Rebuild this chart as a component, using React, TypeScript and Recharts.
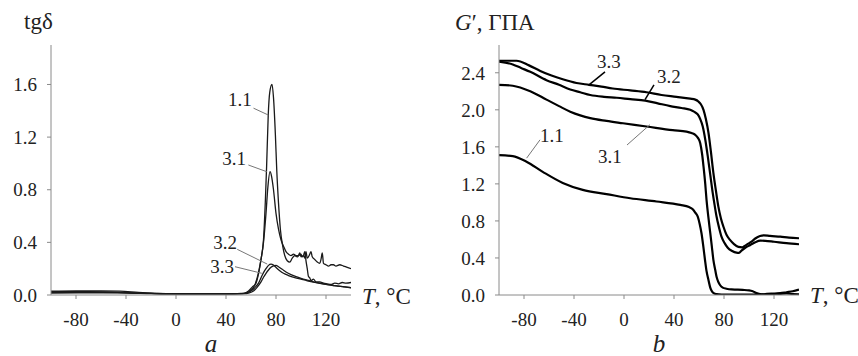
import React from 'react';
import { LineChart, Line, XAxis, YAxis, ReferenceLine, ReferenceDot } from 'recharts';

// ось температуры, общая для обеих панелей
const X_TICKS = [-80, -40, 0, 40, 80, 120];
const TAN_TICKS = [0, 0.4, 0.8, 1.2, 1.6];
const G_TICKS = [0, 0.4, 0.8, 1.2, 1.6, 2.0, 2.4];

// панель a: tgδ
const tanT11 = [-100, -80, -60, -45, -30, -15, 0, 20, 40, 50, 55, 58, 61, 64, 66, 68, 70, 71.5, 72.5, 73.8, 75, 76.8, 78, 79.5, 80.6, 82, 83.5, 85.4, 87, 89, 91, 93, 95, 97, 98, 99, 100, 102, 103, 104, 105, 107, 108, 109, 111, 113, 115, 116, 117, 118, 120, 122, 124, 126, 128, 131, 134, 137, 140];
const tan11 = [0.03, 0.032, 0.032, 0.03, 0.02, 0.012, 0.01, 0.008, 0.008, 0.01, 0.015, 0.03, 0.06, 0.09, 0.16, 0.27, 0.42, 0.72, 0.98, 1.37, 1.54, 1.6, 1.5, 1.22, 0.95, 0.7, 0.5, 0.37, 0.3, 0.26, 0.25, 0.28, 0.3, 0.29, 0.3, 0.32, 0.29, 0.3, 0.28, 0.33, 0.28, 0.31, 0.33, 0.29, 0.27, 0.25, 0.24, 0.27, 0.32, 0.24, 0.23, 0.22, 0.23, 0.23, 0.22, 0.23, 0.22, 0.21, 0.2];

const tanT31 = [-100, -70, -50, -30, -10, 10, 40, 52, 56, 60, 63, 66, 68, 70, 72, 73.5, 75.2, 76.5, 78, 80, 82, 84, 86.5, 88, 90, 92, 94, 96, 98, 100, 101, 102, 103, 104, 105, 106, 107, 108, 110, 112, 115, 118, 121, 124, 127, 130, 133, 136, 140];
const tan31 = [0.025, 0.025, 0.022, 0.015, 0.01, 0.008, 0.008, 0.012, 0.015, 0.035, 0.075, 0.17, 0.27, 0.4, 0.62, 0.82, 0.937, 0.9, 0.8, 0.62, 0.5, 0.42, 0.36, 0.33, 0.31, 0.3, 0.31, 0.3, 0.3, 0.31, 0.29, 0.3, 0.33, 0.26, 0.2, 0.14, 0.13, 0.11, 0.12, 0.1, 0.1, 0.09, 0.085, 0.08, 0.09, 0.085, 0.095, 0.09, 0.095];

const tanT32 = [-100, -60, -40, -20, 0, 40, 52, 56, 60, 63, 66, 68, 70, 72, 74, 76, 78, 80, 83, 86, 90, 95, 100, 105, 110, 115, 120, 125, 130, 135, 140];
const tan32 = [0.02, 0.02, 0.018, 0.012, 0.008, 0.008, 0.01, 0.015, 0.03, 0.055, 0.09, 0.13, 0.17, 0.2, 0.225, 0.235, 0.228, 0.21, 0.185, 0.165, 0.148, 0.132, 0.12, 0.108, 0.097, 0.088, 0.08, 0.073, 0.067, 0.061, 0.056];

const tanT33 = [-100, -60, -40, -20, 0, 40, 54, 58, 62, 65, 68, 70, 72, 74, 76, 78, 80, 82, 85, 88, 92, 96, 100, 105, 110, 115, 120, 125, 130, 135, 140];
const tan33 = [0.015, 0.016, 0.015, 0.01, 0.007, 0.007, 0.01, 0.015, 0.03, 0.06, 0.1, 0.135, 0.165, 0.19, 0.21, 0.222, 0.225, 0.215, 0.195, 0.175, 0.155, 0.14, 0.127, 0.113, 0.1, 0.09, 0.081, 0.074, 0.067, 0.061, 0.055];

// панель b: G', ГПа
const gT33 = [-100, -86, -76, -67, -58, -49, -38, -28, -18, -9, 5, 18, 30, 42, 53, 57, 59.5, 61.5, 63.6, 65.5, 67.6, 69.5, 71.5, 73.5, 75.5, 77.5, 79.5, 82, 84.8, 88, 91.5, 94.5, 97, 99.5, 102, 105, 108.8, 112, 116.8, 125, 132, 140];
const g33 = [2.53, 2.53, 2.48, 2.42, 2.37, 2.33, 2.29, 2.27, 2.25, 2.23, 2.21, 2.19, 2.16, 2.14, 2.12, 2.11, 2.09, 2.06, 2.0, 1.9, 1.75, 1.55, 1.32, 1.13, 0.955, 0.83, 0.74, 0.65, 0.595, 0.55, 0.52, 0.515, 0.533, 0.555, 0.576, 0.61, 0.638, 0.645, 0.638, 0.63, 0.62, 0.613];

const gT32 = [-100, -89, -82, -75, -62, -52, -43, -35, -27, -16, -5.8, 5, 17, 27, 37, 46, 53, 56, 59, 61, 63, 65, 67, 69, 71, 72.5, 74, 76, 78, 80.5, 83, 86.5, 90, 92, 94, 97, 101, 105, 109, 113, 120, 130, 140];
const g32 = [2.52, 2.49, 2.45, 2.41, 2.32, 2.27, 2.22, 2.19, 2.16, 2.14, 2.13, 2.115, 2.1, 2.07, 2.04, 2.02, 2.0, 1.98, 1.95, 1.9, 1.82, 1.68, 1.5, 1.3, 1.1, 0.97, 0.85, 0.73, 0.63, 0.56, 0.51, 0.475, 0.457, 0.455, 0.48, 0.51, 0.54, 0.57, 0.587, 0.585, 0.575, 0.56, 0.548];

const gT31 = [-100, -89, -75, -62, -52, -43, -35, -27, -14, -0.8, 18, 39, 50, 54, 57, 59, 61, 62.5, 63.6, 65, 66, 67.5, 69, 70.3, 71.5, 73, 74, 75.5, 76.8, 79, 82, 86, 90, 95, 100, 103, 106, 110, 115, 120, 125, 130, 135, 140];
const g31 = [2.27, 2.26, 2.2, 2.11, 2.04, 1.98, 1.94, 1.91, 1.88, 1.855, 1.82, 1.78, 1.765, 1.75, 1.73, 1.7, 1.64, 1.52, 1.39, 1.2, 1.03, 0.84, 0.67, 0.52, 0.38, 0.27, 0.2, 0.14, 0.108, 0.08, 0.068, 0.06, 0.058, 0.055, 0.05, 0.04, 0.02, 0.008, 0.005, 0.012, 0.02, 0.03, 0.04, 0.058];

const gT11 = [-100, -89, -78, -65, -49, -33, -14, 5, 26, 45, 52, 55, 57, 59, 60.5, 62, 63.5, 64.8, 66, 67.6, 69, 70.5, 72, 74, 78, 85, 95, 105, 112, 118, 124, 130, 135, 140];
const g11 = [1.51, 1.5, 1.44, 1.33, 1.21, 1.135, 1.09, 1.045, 1.01, 0.973, 0.95, 0.926, 0.89, 0.846, 0.77, 0.667, 0.52, 0.378, 0.26, 0.16, 0.08, 0.036, 0.018, 0.01, 0.005, 0.004, 0.004, 0.004, 0.008, 0.015, 0.012, 0.018, 0.01, 0.008];

const SERIF = '"Liberation Serif", "Times New Roman", serif';
const INK = '#222';

const toPts = (xs: number[], ys: number[]) => xs.map((T, i) => ({ T, v: ys[i] }));

// свой рендер подписей делений, чтобы шрифт задавался инлайн-стилем
const XTick = (p: any) => (
  <text x={p.x} y={p.y} dy="0.71em" textAnchor="middle" fill={INK} style={{ fontFamily: SERIF, fontSize: 19 }}>
    {p.payload.value}
  </text>
);

const YTick = (p: any) => (
  <text x={p.x} y={p.y} dy="0.355em" textAnchor="end" fill={INK} style={{ fontFamily: SERIF, fontSize: 19 }}>
    {Number(p.payload.value).toFixed(1)}
  </text>
);

// подпись кривой (номер образца)
const tag = (text: string, anchor: 'start' | 'end') => (p: any) => (
  <text x={p.cx} y={p.cy} textAnchor={anchor} fill={INK} style={{ fontFamily: SERIF, fontSize: 19 }}>
    {text}
  </text>
);

const axes = (ticks: number[], max: number) => [
  <XAxis
    key="x"
    type="number"
    dataKey="T"
    domain={[-100, 140]}
    ticks={X_TICKS}
    interval={0}
    allowDataOverflow
    stroke="#8a8a8a"
    tick={XTick}
    tickSize={4}
    tickMargin={14}
    height={30}
  />,
  <YAxis
    key="y"
    type="number"
    domain={[0, max]}
    ticks={ticks}
    interval={0}
    allowDataOverflow
    stroke="#8a8a8a"
    tick={YTick}
    tickSize={4}
    tickMargin={10}
    width={45}
  />,
];

const txt = (size: number, italic = false) => ({
  fontFamily: SERIF,
  fontSize: size,
  fontStyle: italic ? 'italic' : 'normal',
});

const App = () => {
  const tanSeries = [
    { id: '1.1', pts: toPts(tanT11, tan11) },
    { id: '3.1', pts: toPts(tanT31, tan31) },
    { id: '3.2', pts: toPts(tanT32, tan32) },
    { id: '3.3', pts: toPts(tanT33, tan33) },
  ];
  const gSeries = [
    { id: '1.1', pts: toPts(gT11, g11) },
    { id: '3.1', pts: toPts(gT31, g31) },
    { id: '3.2', pts: toPts(gT32, g32) },
    { id: '3.3', pts: toPts(gT33, g33) },
  ];

  return (
    <div style={{ position: 'absolute', left: 0, top: 0, width: 858, height: 356, background: '#fff' }}>
      <div style={{ position: 'absolute', left: 0, top: 0 }}>
        <LineChart width={430} height={356} margin={{ top: 45, right: 79, bottom: 31, left: 6 }}>
          {axes(TAN_TICKS, 1.9)}
          {tanSeries.map((s) => (
            <Line
              key={s.id}
              data={s.pts}
              dataKey="v"
              type="monotone"
              stroke="#1a1a1a"
              strokeWidth={1.3}
              dot={false}
              activeDot={false}
              isAnimationActive={false}
            />
          ))}
          <ReferenceLine segment={[{ x: 62, y: 1.42 }, { x: 73.8, y: 1.368 }]} stroke="#777" strokeWidth={1} />
          <ReferenceLine segment={[{ x: 57.9, y: 0.988 }, { x: 72.6, y: 0.937 }]} stroke="#777" strokeWidth={1} />
          <ReferenceLine segment={[{ x: 49, y: 0.347 }, { x: 73, y: 0.235 }]} stroke="#777" strokeWidth={1} />
          <ReferenceLine segment={[{ x: 47.2, y: 0.215 }, { x: 68.6, y: 0.165 }]} stroke="#777" strokeWidth={1} />
          <ReferenceDot x={60.5} y={1.436} r={0} shape={tag('1.1', 'end')} />
          <ReferenceDot x={56} y={0.988} r={0} shape={tag('3.1', 'end')} />
          <ReferenceDot x={48.8} y={0.35} r={0} shape={tag('3.2', 'end')} />
          <ReferenceDot x={46.4} y={0.167} r={0} shape={tag('3.3', 'end')} />
        </LineChart>
      </div>
      <div style={{ position: 'absolute', left: 430, top: 0 }}>
        <LineChart width={428} height={356} margin={{ top: 45, right: 59, bottom: 31, left: 24 }}>
          {axes(G_TICKS, 2.7)}
          {gSeries.map((s) => (
            <Line
              key={s.id}
              data={s.pts}
              dataKey="v"
              type="monotone"
              stroke="#000"
              strokeWidth={2.2}
              dot={false}
              activeDot={false}
              isAnimationActive={false}
            />
          ))}
          <ReferenceLine segment={[{ x: -15.2, y: 2.41 }, { x: -28, y: 2.27 }]} stroke="#000" strokeWidth={1.5} />
          <ReferenceLine segment={[{ x: 24, y: 2.27 }, { x: 16.8, y: 2.11 }]} stroke="#000" strokeWidth={1.5} />
          <ReferenceLine segment={[{ x: 2.4, y: 1.62 }, { x: 20.8, y: 1.84 }]} stroke="#777" strokeWidth={1} />
          <ReferenceLine segment={[{ x: -67.2, y: 1.676 }, { x: -77.9, y: 1.478 }]} stroke="#777" strokeWidth={1} />
          <ReferenceDot x={-21.6} y={2.454} r={0} shape={tag('3.3', 'start')} />
          <ReferenceDot x={26.4} y={2.29} r={0} shape={tag('3.2', 'start')} />
          <ReferenceDot x={-20.8} y={1.427} r={0} shape={tag('3.1', 'start')} />
          <ReferenceDot x={-67.2} y={1.654} r={0} shape={tag('1.1', 'start')} />
        </LineChart>
      </div>
      <svg width={858} height={356} style={{ position: 'absolute', left: 0, top: 0, pointerEvents: 'none' }}>
        <g fill={INK}>
          <text x={24} y={29} style={txt(23)}>tgδ</text>
          <text x={455} y={30} style={txt(23)}>
            <tspan style={txt(23, true)}>G</tspan>′, ГПА
          </text>
          <text x={362} y={304} style={txt(23)}>
            <tspan style={txt(23, true)}>T</tspan>, °C
          </text>
          <text x={810} y={303} style={txt(23)}>
            <tspan style={txt(23, true)}>T</tspan>, °C
          </text>
          <text x={211} y={352} textAnchor="middle" style={txt(25, true)}>a</text>
          <text x={659} y={352} textAnchor="middle" style={txt(25, true)}>b</text>
        </g>
      </svg>
    </div>
  );
};

export default App;
